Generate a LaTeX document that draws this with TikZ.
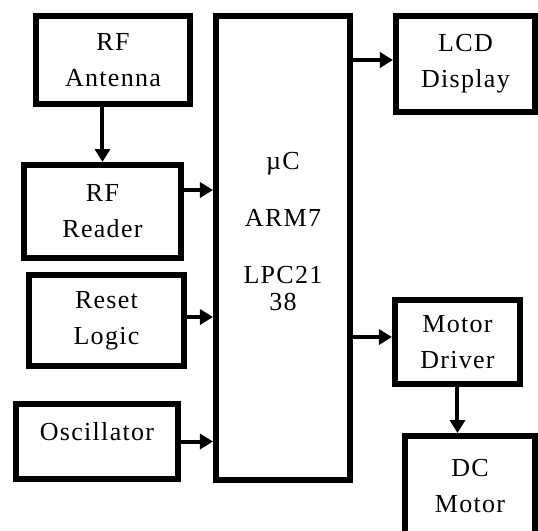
\documentclass[tikz,border=0pt]{standalone}
\usepackage{fontspec}
\setmainfont[LetterSpace=5]{Liberation Serif}
\usetikzlibrary{arrows.meta,positioning,calc}

\begin{document}
\begin{tikzpicture}[
    x=0.5pt, y=-0.5pt,
    block/.style 2 args={draw, line width=3pt, minimum width=#1, minimum height=#2,
        inner sep=0pt, align=center, font=\fontsize{13}{18}\selectfont},
    arrow/.style={-{Triangle[length=6.5pt,width=7.5pt]}, line width=2pt}
]
\useasboundingbox (0,0) rectangle (538,531);

\node[block={77pt}{44pt}]   (ant) at (113,60)    {RF\\Antenna};
\node[block={78.5pt}{46.5pt}] (rdr) at (102.5,211.5) {RF\\Reader};
\node[block={77.5pt}{45.5pt}] (rst) at (106.5,320.5) {Reset\\Logic};
\node[block={81pt}{37.5pt}, text depth=10pt] (osc) at (97,441.5) {Oscillator};
\node[block={67pt}{232pt}, font=\fontsize{13}{13.5}\selectfont, text depth=17pt]
    (uc) at (283,248) {µC\\[15pt]ARM7\\[15pt]LPC21\\38};
\node[block={69.5pt}{48pt}] (lcd) at (465.5,64)  {LCD\\Display};
\node[block={62.5pt}{42pt}] (drv) at (457.5,342) {Motor\\Driver};
\node[block={65pt}{50pt}]   (dcm) at (470,486)   {DC\\Motor};

\draw[arrow] (rdr.north |- ant.south) -- (rdr.north);
\foreach \n/\s in {rdr/10.75pt, rst/1.75pt, osc/0pt}
    \draw[arrow] ([yshift=\s]\n.east) -- ([yshift=\s]\n.east -| uc.west);
\foreach \n/\s in {lcd/2pt, drv/2.5pt}
    \draw[arrow] ([yshift=\s]\n.west -| uc.east) -- ([yshift=\s]\n.west);
\draw[arrow] (drv.south) -- (drv.south |- dcm.north);
\end{tikzpicture}
\end{document}
